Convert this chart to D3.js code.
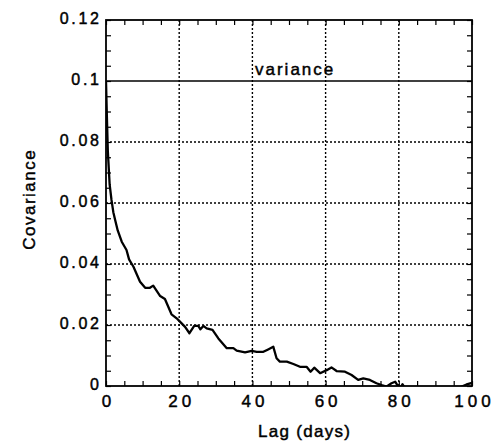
<!DOCTYPE html>
<html>
<head>
<meta charset="utf-8">
<script src="https://cdn.jsdelivr.net/npm/d3@7"></script>
<style>
  body { margin: 0; background: #fff; }
  text { font-family: "Liberation Sans", Arial, sans-serif; fill: #000; stroke: #000; stroke-width: 0.45px; }
  .grid line { stroke: #000; stroke-width: 1.4; stroke-dasharray: 2,2; }
  .minor line { stroke: #000; stroke-width: 1.2; }
  .minor path, .labels path { display: none; }
  .labels line { display: none; }
</style>
</head>
<body>
<div id="chart"></div>
<script>
// lag in days and covariance
var lagDays = [0, 0.25, 0.5, 1, 1.5, 2, 2.5, 3.2, 4.3, 5.6, 6.3, 7.5, 9.3, 10.7, 12, 12.9,
  14.8, 16.1, 17.9, 19.3, 20.2, 21.6, 22.8, 24.1, 25.2, 25.8, 26.6, 27.5, 29.1, 30.7,
  33, 34.8, 35.7, 38, 39.8, 41.2, 43, 44.3, 45.7, 46.6, 47.5, 49.4, 51.2, 53, 54.8,
  55.9, 56.9, 58.5, 60.3, 61.6, 63, 65.3, 67.1, 68.9, 70.3, 72.1, 73.9, 75.3, 76.6,
  78, 79, 79.6, 80.4, 81, 81.6, 84, 88, 92, 96, 98.5, 100];
var covariance = [0.1, 0.088, 0.077, 0.066, 0.061, 0.057, 0.0544, 0.051, 0.0473, 0.0446, 0.0415, 0.0391, 0.0342, 0.0322, 0.0322, 0.0329,
  0.0295, 0.0285, 0.0235, 0.0222, 0.0211, 0.0194, 0.0173, 0.0197, 0.0197, 0.0186, 0.0197, 0.0189, 0.0184, 0.0156,
  0.0124, 0.0124, 0.0116, 0.011, 0.0115, 0.0112, 0.0112, 0.012, 0.0129, 0.0091, 0.008, 0.008, 0.0072, 0.0063, 0.0063,
  0.0047, 0.006, 0.0042, 0.0052, 0.0061, 0.0049, 0.0047, 0.0036, 0.002, 0.0025, 0.002, 0.0009, 0.0003, -0.0002,
  0.0009, 0.0014, 0.0003, -0.0008, 0.0006, -0.0006, -0.0015, -0.002, -0.0015, -0.0008, 0.0005, 0.001];
var varianceLevel = 0.1;
var xTicks = [0, 20, 40, 60, 80, 100];
var yTickLabels = ["0", "0.02", "0.04", "0.06", "0.08", "0.1", "0.12"];
var yTicks = [0, 0.02, 0.04, 0.06, 0.08, 0.1, 0.12];

var width = 497, height = 446;
var margin = {top: 20, right: 25, bottom: 60, left: 106};
var innerW = width - margin.left - margin.right;
var innerH = height - margin.top - margin.bottom;

var svg = d3.select("#chart").append("svg")
  .attr("width", width)
  .attr("height", height);
var g = svg.append("g")
  .attr("transform", "translate(" + margin.left + "," + margin.top + ")");

var x = d3.scaleLinear().domain([0, 100]).range([0, innerW]);
var y = d3.scaleLinear().domain([0, 0.12]).range([innerH, 0]);

var minorX = d3.range(0, 101, 5);
var minorY = d3.range(0, 0.1201, 0.005);

// dotted grid
g.append("g").attr("class", "grid")
  .selectAll("line").data(xTicks.slice(1, -1)).enter().append("line")
    .attr("x1", d => x(d)).attr("x2", d => x(d))
    .attr("y1", 0).attr("y2", innerH);
g.append("g").attr("class", "grid")
  .selectAll("line").data(yTicks.slice(1, -2)).enter().append("line")
    .attr("x1", 0).attr("x2", innerW)
    .attr("y1", d => y(d)).attr("y2", d => y(d));

// inward minor ticks on all four sides
g.append("g").attr("class", "minor")
  .attr("transform", "translate(0," + innerH + ")")
  .call(d3.axisBottom(x).tickValues(minorX).tickSize(-5).tickFormat(""));
g.append("g").attr("class", "minor")
  .call(d3.axisTop(x).tickValues(minorX).tickSize(-5).tickFormat(""));
g.append("g").attr("class", "minor")
  .call(d3.axisLeft(y).tickValues(minorY).tickSize(-5).tickFormat(""));
g.append("g").attr("class", "minor")
  .attr("transform", "translate(" + innerW + ",0)")
  .call(d3.axisRight(y).tickValues(minorY).tickSize(-5).tickFormat(""));

// tick labels (letter-spaced like the original typesetting)
var xl = g.append("g").attr("class", "labels")
  .attr("transform", "translate(0," + innerH + ")")
  .call(d3.axisBottom(x).tickValues(xTicks).tickSize(0).tickPadding(9).tickFormat(d3.format("d")));
xl.selectAll("text")
  .style("font-size", "17px")
  .style("letter-spacing", "4px")
  .attr("dx", "2px");
var yl = g.append("g").attr("class", "labels")
  .call(d3.axisLeft(y).tickValues(yTicks).tickSize(0).tickPadding(7)
    .tickFormat((d, i) => yTickLabels[i]));
yl.selectAll("text")
  .style("font-size", "16px")
  .style("letter-spacing", "2.7px")
  .attr("dx", "2.7px")
  .attr("dy", "3.5px");

// variance line
g.append("line")
  .attr("x1", 0).attr("x2", innerW)
  .attr("y1", y(varianceLevel)).attr("y2", y(varianceLevel))
  .attr("stroke", "#000").attr("stroke-width", 1.6);
g.append("text")
  .attr("x", x(51.4) + 1).attr("y", y(varianceLevel) - 6)
  .attr("text-anchor", "middle")
  .style("font-size", "17px")
  .style("letter-spacing", "2px")
  .text("variance");

// covariance curve, clipped to the plot
svg.append("defs").append("clipPath").attr("id", "plotClip")
  .append("rect").attr("width", innerW).attr("height", innerH);
var pts = lagDays.map((d, i) => [d, covariance[i]]);
g.append("path")
  .datum(pts)
  .attr("clip-path", "url(#plotClip)")
  .attr("fill", "none")
  .attr("stroke", "#000")
  .attr("stroke-width", 2.3)
  .attr("stroke-linejoin", "round")
  .attr("d", d3.line().x(d => x(d[0])).y(d => y(d[1])));

// frame
g.append("rect")
  .attr("width", innerW).attr("height", innerH)
  .attr("fill", "none").attr("stroke", "#000").attr("stroke-width", 1.8);

// axis titles
svg.append("text")
  .attr("x", 304.6).attr("y", 437)
  .attr("text-anchor", "middle")
  .style("font-size", "17px")
  .style("letter-spacing", "1.3px")
  .text("Lag (days)");
svg.append("text")
  .attr("transform", "translate(35,200) rotate(-90)")
  .attr("text-anchor", "middle")
  .style("font-size", "17px")
  .style("letter-spacing", "1.5px")
  .attr("dx", "0.75px")
  .text("Covariance");
</script>
</body>
</html>
